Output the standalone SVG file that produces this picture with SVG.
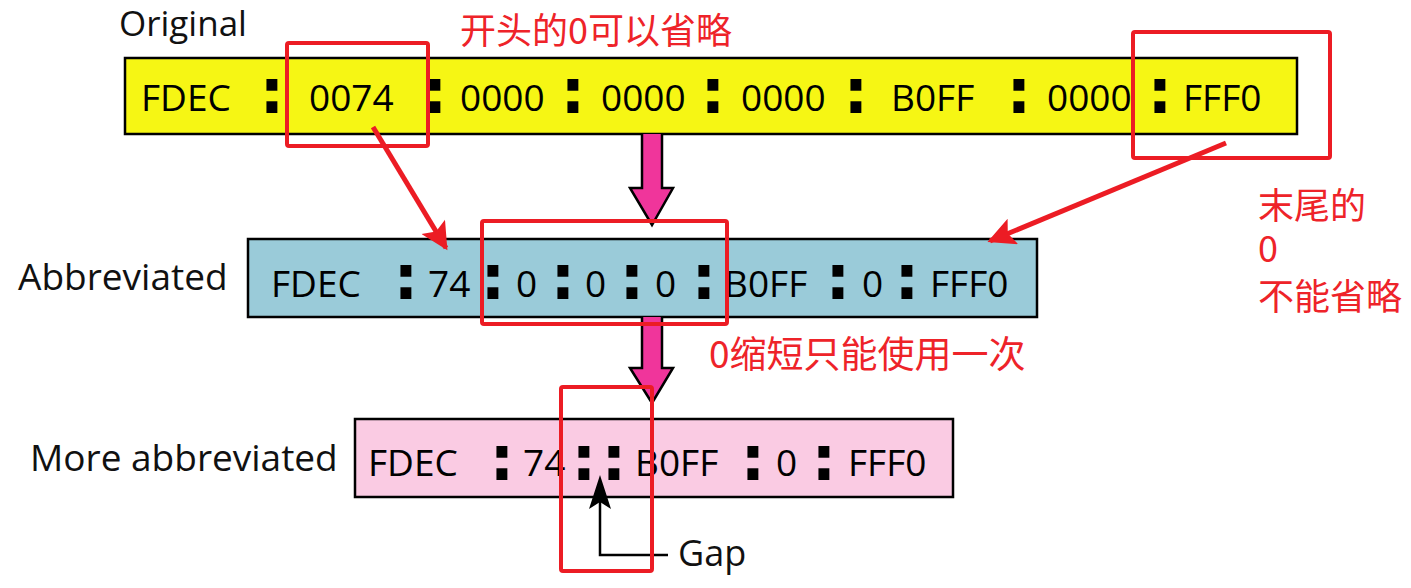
<svg xmlns="http://www.w3.org/2000/svg" width="1411" height="588" viewBox="0 0 1411 588">
<style>
.lbl{font-family:"Open Sans","Liberation Sans",sans-serif;font-size:36px;fill:#111}
.t{font-family:"Open Sans","Liberation Sans",sans-serif;font-size:37px;fill:#000}
.c{font-family:"DejaVu Sans",sans-serif;font-weight:bold;font-size:62px;fill:#000;text-anchor:middle}
.box{stroke:#000;stroke-width:2.5}
.hl{fill:none;stroke:#EC1C24;stroke-width:4}
.cn{font-family:"Noto Sans CJK SC",sans-serif;fill:#EE2329}
.pink{fill:#F0359B;stroke:#000;stroke-width:2.5;stroke-linejoin:miter}
.red{stroke:#EC1C24;stroke-width:5;fill:none}
</style>
<defs>
<marker id="rh" viewBox="0 0 10 10" refX="9" refY="5" markerWidth="6" markerHeight="5.5" orient="auto" markerUnits="strokeWidth">
<path d="M0,0 L10,5 L0,10 L2,5 Z" fill="#EC1C24"/>
</marker>
</defs>
<rect width="1411" height="588" fill="#fff"/>

<g id="original">
<text class="lbl" x="119" y="36" style="font-size:35px">Original</text>
<rect class="box" x="125" y="58" width="1172" height="76" fill="#F6F614"/>
<text class="t" x="141" y="111">FDEC</text>
<text class="c" x="272" y="113">:</text>
<text class="t" x="309" y="111">0074</text>
<text class="c" x="435" y="113">:</text>
<text class="t" x="460" y="111">0000</text>
<text class="c" x="573" y="113">:</text>
<text class="t" x="601" y="111">0000</text>
<text class="c" x="713" y="113">:</text>
<text class="t" x="741" y="111">0000</text>
<text class="c" x="856" y="113">:</text>
<text class="t" x="891" y="111">B0FF</text>
<text class="c" x="1019" y="113">:</text>
<text class="t" x="1047" y="111">0000</text>
<text class="c" x="1160" y="113">:</text>
<text class="t" x="1183" y="111">FFF0</text>
</g>

<g id="abbreviated">
<text class="lbl" x="18" y="290" style="font-size:37px">Abbreviated</text>
<rect class="box" x="248" y="239" width="789" height="78" fill="#9ACBD9"/>
<text class="t" x="271" y="297">FDEC</text>
<text class="c" x="406" y="299">:</text>
<text class="t" x="428" y="297">74</text>
<text class="c" x="493" y="299">:</text>
<text class="t" x="516" y="297">0</text>
<text class="c" x="563" y="299">:</text>
<text class="t" x="585" y="297">0</text>
<text class="c" x="632" y="299">:</text>
<text class="t" x="655" y="297">0</text>
<text class="c" x="704" y="299">:</text>
<text class="t" x="724" y="297">B0FF</text>
<text class="c" x="838" y="299">:</text>
<text class="t" x="862" y="297">0</text>
<text class="c" x="907" y="299">:</text>
<text class="t" x="930" y="297">FFF0</text>
</g>

<g id="more-abbreviated">
<text class="lbl" x="30" y="471" style="font-size:37px">More abbreviated</text>
<rect class="box" x="355" y="419" width="598" height="78" fill="#FACBE3"/>
<text class="t" x="368" y="476">FDEC</text>
<text class="c" x="502" y="480">:</text>
<text class="t" x="523" y="476">74</text>
<text class="c" x="584" y="480">:</text>
<text class="c" x="614" y="480">:</text>
<text class="t" x="635" y="476">B0FF</text>
<text class="c" x="753" y="480">:</text>
<text class="t" x="776" y="476">0</text>
<text class="c" x="824" y="480">:</text>
<text class="t" x="848" y="476">FFF0</text>
</g>

<g id="gap-label">
<text class="lbl" x="678" y="566">Gap</text>
</g>

<g id="connectors">
<path class="pink" d="M642,134 V188 H630 L652,225 L673,188 H662 V134"/>
<path class="pink" d="M642,317 V368 H630 L652,403 L673,368 H662 V317"/>
<path d="M668,555 H600 V500" fill="none" stroke="#000" stroke-width="2.5"/>
<path d="M600,475 L611,509 L600,502 L589,509 Z" fill="#000"/>
<line class="red" x1="373" y1="127" x2="446" y2="248" marker-end="url(#rh)"/>
<line class="red" x1="1226" y1="143" x2="990" y2="241" marker-end="url(#rh)"/>
</g>

<g id="annotations">
<rect class="hl" x="287" y="43" width="141" height="103" rx="2"/>
<rect class="hl" x="1133" y="32" width="197" height="126" rx="2"/>
<rect class="hl" x="482" y="221" width="245" height="103" rx="2"/>
<rect class="hl" x="561" y="387" width="91" height="184" rx="2"/>
<text class="cn" x="460" y="44" font-size="36">开头的0可以省略</text>
<text class="cn" font-size="36"><tspan x="1258" y="219">末尾的</tspan><tspan x="1258" y="262">0</tspan><tspan x="1258" y="310">不能省略</tspan></text>
<text class="cn" x="709" y="368" font-size="37">0缩短只能使用一次</text>
</g>
</svg>
